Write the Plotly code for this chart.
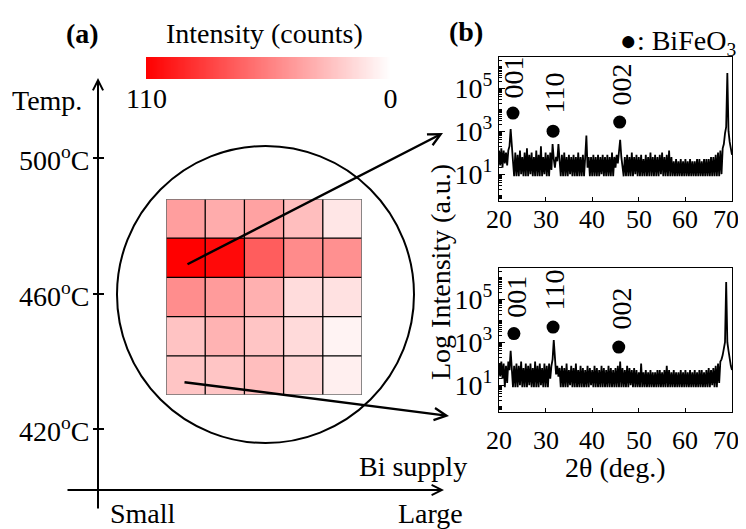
import numpy as np
import plotly.graph_objects as go

W, H = 746, 529          # browser window
OX, OY = 8, 8            # default page margin around the plot div
WF, HF = W - OX, H - OY  # figure size so that it fits the window
FONT = "Liberation Serif, Times New Roman, serif"
FS = 28

# ---------------- data ----------------
# (a) intensity map (counts), rows top -> bottom, columns small -> large Bi supply
GRID_Z = [
    [42, 36, 40, 28, 11],
    [110, 106, 70, 50, 48],
    [49, 43, 34, 15, 13],
    [26, 33, 25, 16, 5],
    [25, 25, 28, 18, 7],
]
CBAR_MAX = 110
CBAR_MIN = 0
TEMP_LABELS = ["500<sup>o</sup>C", "460<sup>o</sup>C", "420<sup>o</sup>C"]

# (b) XRD scans: 2theta from 20 to 70 deg, step 0.25 deg; values are 10*log10(counts)
THETA_START, THETA_STEP = 20.0, 0.25
TOP_V = [
    21, 14, 22, 13, 21, 15, 20, 14, 21,
    23, 31, 21, 16, 9,
    20, 9, 19, 9, 21, 10, 18, 9, 20, 9, 22, 9, 19, 10, 20, 9,
    18, 9, 21, 9, 19, 9, 23, 9, 18, 10, 20, 9, 19, 9, 20, 12,
    24, 17, 13, 18, 16, 24, 18, 9,
    19, 9, 20, 9, 18, 9, 19, 10, 18, 9, 19, 9, 18, 9, 20, 9, 18, 9, 19, 9, 18,
    28, 13, 18, 9, 18,
    9, 19, 9, 18, 9, 19, 9, 18, 10, 19, 9, 18, 9, 19, 9, 18, 9, 20, 9, 18, 13, 19, 15,
    20, 26, 18, 13, 9,
    18, 9, 19, 9, 18, 9, 20, 9, 18, 10, 19, 9, 18, 9, 19, 9, 17, 9, 19, 9,
    18, 9, 20, 9, 18, 9, 19, 9, 18, 9, 19, 10, 20, 9, 18, 9, 19, 9, 21, 9,
    18, 9, 16, 9, 17, 9, 16, 9, 17, 9, 16, 9, 17, 9, 16, 9, 17, 9, 16, 9,
    16, 9, 17, 9, 17, 9, 16, 9, 17, 9, 17, 9, 17, 9, 18, 9, 18, 9, 19, 9,
    20, 9, 21, 10, 22, 24, 29, 32, 57, 30, 25, 22, 19,
]
BOT_V = [
    20, 14, 21, 13, 20, 9, 19, 11, 21,
    17, 26, 18, 9, 19,
    9, 20, 9, 19, 10, 21, 9, 18, 9, 20, 9, 19, 10, 20, 9, 18,
    9, 21, 9, 19, 9, 20, 10, 18, 9, 20, 9, 19, 9, 20, 13,
    19, 22, 31, 20, 15, 19, 14, 18, 9,
    19, 9, 18, 9, 20, 9, 17, 10, 19, 9, 18, 9, 20, 9, 17, 9, 19, 9, 18, 9,
    17, 9, 19, 9, 18, 10, 17, 9, 19, 9, 18, 9, 17, 9, 19, 9, 18, 9, 17, 9,
    19, 9, 18, 9, 17, 9, 18, 9, 19, 9, 21, 9, 18, 9, 17, 9, 19, 9, 18, 10,
    17, 9, 18, 9, 17, 9, 16, 9, 20, 9, 16, 9, 17, 9, 16, 9, 17, 9, 16, 9,
    16, 9, 17, 9, 17, 9, 16, 9, 17, 9, 19, 9, 17, 9, 16, 9, 17, 9, 16, 9,
    16, 9, 17, 9, 16, 9, 17, 9, 16, 9, 17, 9, 16, 9, 17, 9, 16, 9, 17, 9,
    17, 9, 16, 9, 17, 9, 18, 9, 17, 10, 18, 9, 19, 9,
    20, 11, 21, 22, 24, 27, 30, 58, 30, 26, 22, 19, 17,
]
assert len(TOP_V) == 201 and len(BOT_V) == 201

PEAK_LABELS = ["001", "110", "002"]
TOP_DOT_THETA = [23.0, 31.6, 45.9]
TOP_DOT_LOG = [3.84, 3.0, 3.42]
TOP_LBL_THETA = [23.0, 32.0, 46.3]
TOP_LBL_LOG = [5.5, 4.8, 5.15]
BOT_DOT_THETA = [23.2, 31.6, 45.7]
BOT_DOT_LOG = [3.4, 3.7, 2.77]
BOT_LBL_THETA = [23.6, 32.0, 46.3]
BOT_LBL_LOG = [5.1, 5.45, 4.55]

XRD_TICKS = [20, 30, 40, 50, 60, 70]
LOG_TICKS = [10, 1000, 100000]
LOG_TICKTEXT = ["10<sup>1</sup>", "10<sup>3</sup>", "10<sup>5</sup>"]

# ---------------- helpers (window pixels -> paper) ----------------
def px(x):
    return (x - OX) / WF

def py(y):
    return 1 - (y - OY) / HF

theta = THETA_START + THETA_STEP * np.arange(len(TOP_V))
top_counts = 10 ** (np.array(TOP_V) / 10.0)
bot_counts = 10 ** (np.array(BOT_V) / 10.0)

CSCALE = [[0, "#ffffff"], [1, "#ff0000"]]

fig = go.Figure()

fig.add_trace(go.Heatmap(
    z=GRID_Z, x=list(range(5)), y=list(range(5)),
    colorscale=CSCALE, zmin=CBAR_MIN, zmax=CBAR_MAX, showscale=False,
    xaxis="x", yaxis="y", hoverinfo="z"))

cb_vals = np.linspace(CBAR_MAX, CBAR_MIN, 221)
fig.add_trace(go.Heatmap(
    z=[cb_vals], x=cb_vals, y=[0], colorscale=CSCALE, zmin=CBAR_MIN, zmax=CBAR_MAX,
    showscale=False, xaxis="x2", yaxis="y2", hoverinfo="skip"))

fig.add_trace(go.Scatter(x=theta, y=top_counts, mode="lines",
                         line=dict(color="black", width=1.8), xaxis="x3", yaxis="y3"))
fig.add_trace(go.Scatter(x=theta, y=bot_counts, mode="lines",
                         line=dict(color="black", width=1.8), xaxis="x4", yaxis="y4"))
fig.add_trace(go.Scatter(x=TOP_DOT_THETA, y=[10 ** v for v in TOP_DOT_LOG], mode="markers",
                         marker=dict(color="black", size=13), xaxis="x3", yaxis="y3"))
fig.add_trace(go.Scatter(x=BOT_DOT_THETA, y=[10 ** v for v in BOT_DOT_LOG], mode="markers",
                         marker=dict(color="black", size=13), xaxis="x4", yaxis="y4"))

ann = []
for lbl, xv, yv in zip(PEAK_LABELS, TOP_LBL_THETA, TOP_LBL_LOG):
    ann.append(dict(text=lbl, x=xv, y=yv, xref="x3", yref="y3", textangle=-90,
                    showarrow=False, font=dict(size=FS)))
for lbl, xv, yv in zip(PEAK_LABELS, BOT_LBL_THETA, BOT_LBL_LOG):
    ann.append(dict(text=lbl, x=xv, y=yv, xref="x4", yref="y4", textangle=-90,
                    showarrow=False, font=dict(size=FS)))

# 2theta tick labels, placed on the axes' own scale (last one nudged inside the window)
for xr, ylab in (("x3", 220), ("x4", 440)):
    for v in XRD_TICKS:
        ann.append(dict(text=str(v), x=v, y=py(ylab), xref=xr, yref="paper",
                        xanchor="center", yanchor="middle", showarrow=False,
                        xshift=-6 if v == XRD_TICKS[-1] else 0,
                        font=dict(size=26)))

def text(t, x, y, xanchor="center", size=FS, angle=0):
    ann.append(dict(text=t, x=px(x), y=py(y), xref="paper", yref="paper",
                    xanchor=xanchor, yanchor="middle", showarrow=False,
                    textangle=angle, font=dict(size=size)))

text("<b>(a)</b>", 82, 33)
text("Intensity (counts)", 264, 33)
text("<b>(b)</b>", 466, 31)
text("\u25cf: BiFeO<sub>3</sub>", 678, 42)
text("Temp.", 84, 100, xanchor="right")
for lbl, yy in zip(TEMP_LABELS, [158, 294, 429]):
    text(lbl, 91, yy, xanchor="right")
text("Small", 143, 513)
text("Large", 430, 513)
text("Bi supply", 413, 466)
text("Log Intensity (a.u.)", 440, 272, angle=-90)
text("2\u03b8 (deg.)", 615, 467)

def arrow(x0, y0, x1, y1, width=2.0, head=5, size=1.0):
    ann.append(dict(text="", x=px(x1), y=py(y1), xref="paper", yref="paper",
                    ax=x0 - x1, ay=y0 - y1, axref="pixel", ayref="pixel",
                    showarrow=True, arrowhead=head, arrowsize=size, arrowwidth=width,
                    arrowcolor="black", standoff=0))

arrow(98, 510, 98, 78, width=2.0)
arrow(66, 490, 444, 490, width=2.0)
arrow(186, 265, 443, 133, width=2.4)
arrow(183, 382, 449, 416, width=2.4)

shapes = []
shapes.append(dict(type="circle", xref="paper", yref="paper",
                   x0=px(117), x1=px(414), y0=py(443), y1=py(146),
                   line=dict(color="black", width=2)))
for yy in [158, 294, 429]:
    shapes.append(dict(type="line", xref="paper", yref="paper",
                       x0=px(93), x1=px(104), y0=py(yy), y1=py(yy),
                       line=dict(color="black", width=2)))
for k in range(1, 5):
    b = k - 0.5
    shapes.append(dict(type="line", xref="x", yref="y", x0=b, x1=b, y0=-0.5, y1=4.5,
                       line=dict(color="black", width=1.3), layer="above"))
    shapes.append(dict(type="line", xref="x", yref="y", x0=-0.5, x1=4.5, y0=b, y1=b,
                       line=dict(color="black", width=1.3), layer="above"))
shapes.append(dict(type="rect", xref="x", yref="y", x0=-0.5, x1=4.5, y0=-0.5, y1=4.5,
                   line=dict(color="#6e6e6e", width=1.6), layer="above"))

hidden = dict(showticklabels=False, showgrid=False, zeroline=False, ticks="",
              showline=False, automargin=False)

def xrd_x(anchor):
    return dict(domain=[px(499), px(732)], anchor=anchor, range=[20, 70],
                tickmode="array", tickvals=XRD_TICKS, ticks="inside", ticklen=4,
                tickcolor="black", showline=True, mirror=True, linecolor="black",
                linewidth=1, showgrid=False, zeroline=False, automargin=False,
                showticklabels=False)

def xrd_y(anchor, dom):
    return dict(domain=dom, anchor=anchor, type="log", range=[-0.25, 6.45],
                tickmode="array", tickvals=LOG_TICKS, ticktext=LOG_TICKTEXT,
                ticks="inside", ticklen=6, tickcolor="black",
                minor=dict(ticks="inside", ticklen=3, tickcolor="black", dtick="D1", showgrid=False),
                showline=True, mirror=True, linecolor="black", linewidth=1,
                showgrid=False, zeroline=False, automargin=False, tickfont=dict(size=FS))

fig.update_layout(
    width=WF, height=HF, autosize=False,
    margin=dict(l=0, r=0, t=0, b=0, pad=0),
    paper_bgcolor="white", plot_bgcolor="white",
    font=dict(family=FONT, size=FS, color="black"),
    showlegend=False,
    xaxis=dict(domain=[px(166), px(362)], anchor="y", range=[-0.5, 4.5], **hidden),
    yaxis=dict(domain=[py(395), py(199)], anchor="x", range=[4.5, -0.5], **hidden),
    xaxis2=dict(domain=[px(146), px(391)], anchor="y2", range=[110.25, -0.25],
                tickmode="array", tickvals=[CBAR_MAX, CBAR_MIN],
                ticktext=[str(CBAR_MAX), str(CBAR_MIN)], ticks="", showline=False,
                showgrid=False, zeroline=False, automargin=False, tickfont=dict(size=FS)),
    yaxis2=dict(domain=[py(79), py(57)], anchor="x2", range=[-0.5, 0.5], **hidden),
    xaxis3=xrd_x("y3"),
    yaxis3=xrd_y("x3", [py(201), py(57)]),
    xaxis4=xrd_x("y4"),
    yaxis4=xrd_y("x4", [py(412), py(268)]),
    annotations=ann,
    shapes=shapes,
)

fig.write_html("out.html")
